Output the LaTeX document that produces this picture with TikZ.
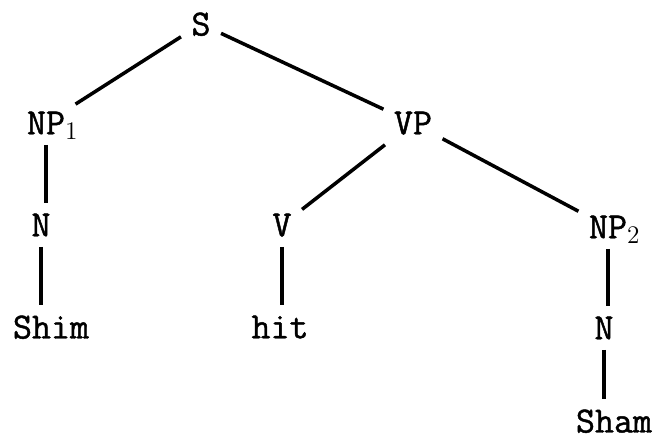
\documentclass[tikz,border=0pt]{standalone}
\usepackage{fontspec}
\usepackage{tikz}
\newfontfamily\treefont{Latin Modern Mono}[FakeBold=1.2]

\begin{document}
\begin{tikzpicture}
  [every node/.style={font=\treefont\fontsize{21}{24}\selectfont, inner sep=5pt, text depth=0pt},
   line width=2pt]
  \useasboundingbox (0, 0) rectangle (13.12, 8.8);
  \node (s) at (4.02, 8.32) {S};
  \node (np1) at (0.92, 6.34) {NP\rlap{\smash{$_1$}}};
  \node (vp) at (8.26, 6.34) {VP};
  \node (n1) at (0.82, 4.30) {N};
  \node (v) at (5.64, 4.30) {V};
  \node (np2) at (12.16, 4.26) {NP\rlap{\smash{$_2$}}};
  \node (shim) at (1.02, 2.26) {Shim};
  \node (hit) at (5.60, 2.26) {hit};
  \node (n2) at (12.08, 2.24) {N};
  \node (sham) at (12.28, 0.38) {Sham};

  % branches
  \foreach \from/\to in {s/np1,s/vp,vp/v,vp/np2}
  \draw (\from) -- (\to);
  % straight down
  \foreach \from/\to in {np1/n1,n1/shim,v/hit,np2/n2,n2/sham}
  \draw (\from.south) -- (\from.south |- \to.north);

\end{tikzpicture}
\end{document}
